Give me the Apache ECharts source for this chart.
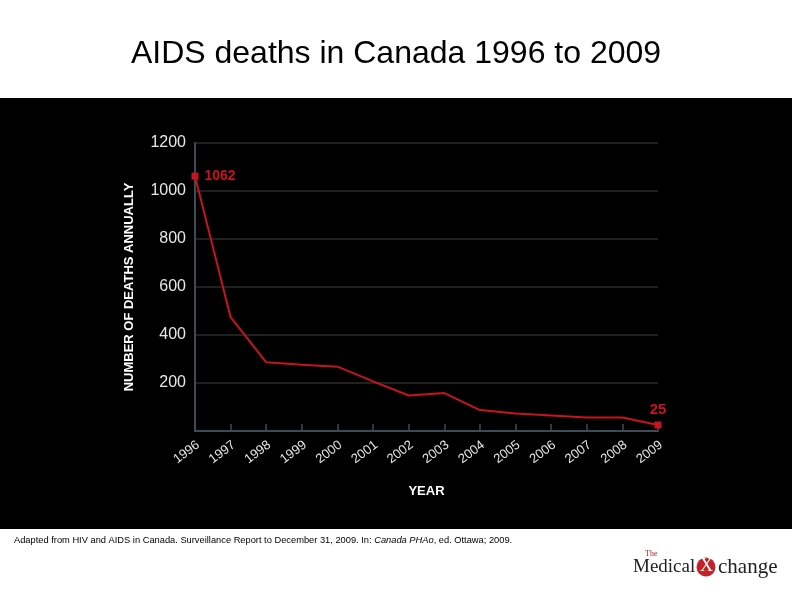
<!DOCTYPE html>
<html>
<head>
<meta charset="utf-8">
<script src="https://cdn.jsdelivr.net/npm/echarts@6/dist/echarts.min.js"></script>
<style>
  html, body { margin: 0; padding: 0; background: #fff; }
  #chart { width: 792px; height: 595px; }
</style>
</head>
<body>
<div id="chart"></div>
<script>
// years and annual deaths
var years = ['1996', '1997', '1998', '1999', '2000', '2001', '2002', '2003', '2004', '2005', '2006', '2007', '2008', '2009'];
var deaths = [1062, 474, 286, 276, 268, 207, 148, 158, 87, 73, 65, 56, 56, 25];
var yTicks = [0, 200, 400, 600, 800, 1000, 1200];

var red = '#c8141e';
var last = deaths.length - 1;

// only the first and last point get a marker + label
var lineData = deaths.map(function (v, i) {
  if (i === 0) {
    return { value: v, symbol: 'rect', symbolSize: 7,
      label: { show: true, position: 'right', distance: 6, fontSize: 14 } };
  }
  if (i === last) {
    return { value: v, symbol: 'rect', symbolSize: 7,
      label: { show: true, position: 'top', distance: 4, fontSize: 15 } };
  }
  return { value: v, symbol: 'none' };
});

var chart = echarts.init(document.getElementById('chart'));

var option = {
  backgroundColor: '#fff',
  animation: false,
  title: {
    text: 'AIDS deaths in Canada 1996 to 2009',
    left: 'center',
    top: 33,
    textStyle: { fontFamily: 'Liberation Sans', fontWeight: 'normal', fontSize: 32, color: '#000' }
  },
  graphic: [
    { type: 'rect', z: -10, silent: true,
      shape: { x: 0, y: 98, width: 792, height: 431 },
      style: { fill: '#000' } },
    { type: 'text', left: 14, top: 536,
      style: {
        text: '{n|Adapted from HIV and AIDS in Canada. Surveillance Report to December 31, 2009. In: }{i|Canada PHAo}{n|, ed. Ottawa; 2009.}',
        rich: {
          n: { fontFamily: 'Liberation Sans', fontSize: 9.3, fill: '#000' },
          i: { fontFamily: 'Liberation Sans', fontSize: 9.3, fontStyle: 'italic', fill: '#000' }
        }
      } },
    // logo
    { type: 'text', left: 645, top: 550,
      style: { text: 'The', fontFamily: 'Liberation Serif', fontSize: 8, fill: '#b22028' } },
    { type: 'text', left: 633, top: 558,
      style: { text: 'Medical', fontFamily: 'Liberation Serif', fontSize: 19, fill: '#222' } },
    { type: 'circle', shape: { cx: 706, cy: 567, r: 9.5 },
      style: { fill: '#c0242a' } },
    { type: 'text', left: 700, top: 557,
      style: { text: 'X', fontFamily: 'Liberation Serif', fontSize: 18, fill: '#fff' } },
    { type: 'text', left: 718, top: 557,
      style: { text: 'change', fontFamily: 'Liberation Serif', fontSize: 21, fill: '#222' } }
  ],
  grid: { left: 195, right: 134, top: 143, bottom: 164 },
  xAxis: {
    type: 'category',
    data: years,
    boundaryGap: false,
    name: 'YEAR',
    nameLocation: 'middle',
    nameGap: 54,
    nameTextStyle: { color: '#fff', fontWeight: 'bold', fontSize: 13, fontFamily: 'Liberation Sans' },
    axisLine: { lineStyle: { color: '#3e4c58', width: 2 } },
    axisTick: { inside: true, length: 7, lineStyle: { color: '#3e4c58', width: 1.5 } },
    axisLabel: { rotate: 37, margin: 15, padding: [0, -4, 0, 0], color: '#e6e6e6', fontSize: 13, fontFamily: 'Liberation Sans' },
    splitLine: { show: false }
  },
  yAxis: {
    type: 'value',
    min: 0,
    max: 1200,
    interval: 200,
    name: 'NUMBER OF DEATHS ANNUALLY',
    nameLocation: 'middle',
    nameGap: 59,
    nameTextStyle: { color: '#fff', fontWeight: 'bold', fontSize: 13, fontFamily: 'Liberation Sans' },
    axisLine: { show: true, lineStyle: { color: '#3e4c58', width: 2 } },
    axisTick: { show: false },
    axisLabel: {
      margin: 9,
      color: '#e6e6e6',
      fontSize: 16,
      fontFamily: 'Liberation Sans',
      formatter: function (v) { return yTicks.indexOf(v) > 0 ? String(v) : ''; }
    },
    splitLine: { lineStyle: { color: '#2b2b2b', width: 1.5 } }
  },
  series: [{
    type: 'line',
    data: lineData,
    showSymbol: true,
    symbol: 'none',
    lineStyle: { color: red, width: 2 },
    itemStyle: { color: red },
    label: { color: red, fontWeight: 'bold', fontFamily: 'Liberation Sans' }
  }]
};

chart.setOption(option);
</script>
</body>
</html>
